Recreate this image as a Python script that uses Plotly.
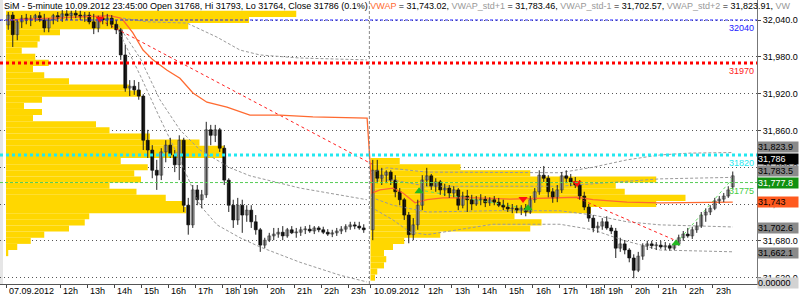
import plotly.graph_objects as go

# ---------------- DATA ----------------
# 10-minute candles, day 1 (07.09.2012) and day 2 (10.09.2012)
d1_open = [32032,32048,32016,32037,32043,32040,32043,32047,32040,32027,
           32040,32047,32043,32050,32047,32051,32048,32045,32048,32037,
           32027,32043,32040,32043,32033,32024,31983,31929,31932,31926,
           31916,31844,31828,31795,31787,31825,31836,31820,31804,31844,
           31738,31706,31763,31747,31755,31861,31852,31861,31831,31779,
           31738,31714,31738,31722,31730,31711,31698,31673,31681,31688,
           31691,31694,31688,31698,31693,31694,31698,31699,31696,31701,
           31698,31694,31691,31693,31696,31699,31703,31706,31704,31701]
d1_high = [32053,32053,32040,32048,32050,32048,32050,32053,32050,32043,
           32050,32053,32056,32056,32055,32056,32055,32053,32053,32050,
           32047,32053,32050,32048,32040,32027,31999,31942,31942,31939,
           31919,31861,31836,31812,31831,31844,31848,31828,31852,31848,
           31750,31771,31771,31763,31874,31869,31869,31864,31836,31782,
           31747,31750,31747,31738,31738,31722,31701,31685,31693,31701,
           31701,31704,31701,31704,31701,31703,31704,31706,31704,31704,
           31703,31699,31698,31701,31704,31707,31711,31711,31711,31707]
d1_low = [32024,31996,32007,32027,32033,32030,32037,32037,32020,32020,
          32033,32037,32037,32040,32040,32043,32040,32037,32033,32017,
          32020,32033,32030,32027,32017,31975,31923,31916,31918,31910,
          31828,31815,31782,31763,31779,31808,31815,31792,31779,31727,
          31690,31701,31738,31733,31750,31836,31841,31825,31771,31727,
          31701,31706,31693,31711,31701,31690,31662,31668,31678,31681,
          31685,31681,31685,31691,31685,31688,31691,31693,31691,31694,
          31691,31688,31686,31688,31691,31694,31698,31699,31698,31693]
d1_close = [32048,32016,32037,32043,32040,32043,32047,32040,32027,32040,
            32047,32043,32050,32047,32051,32048,32045,32048,32037,32027,
            32043,32040,32043,32033,32024,31983,31929,31932,31926,31916,
            31844,31828,31795,31787,31825,31836,31820,31804,31844,31738,
            31706,31763,31747,31755,31861,31852,31861,31831,31779,31738,
            31714,31738,31722,31730,31711,31698,31673,31681,31688,31691,
            31694,31688,31698,31693,31694,31698,31699,31696,31701,31698,
            31694,31691,31693,31696,31699,31703,31706,31704,31701,31698]

d2_open = [31698,31795,31782,31787,31792,31779,31760,31747,31722,31690,
           31706,31738,31779,31786,31769,31776,31763,31766,31758,31763,
           31738,31753,31747,31740,31747,31748,31742,31747,31743,31738,
           31735,31732,31733,31730,31733,31727,31747,31760,31787,31782,
           31760,31750,31763,31786,31782,31776,31771,31753,31735,31717,
           31701,31704,31711,31701,31696,31668,31675,31665,31652,31632,
           31655,31672,31675,31672,31673,31670,31672,31668,31675,31685,
           31691,31688,31698,31704,31722,31727,31733,31745,31748,31753,
           31768]
d2_high = [31812,31812,31799,31795,31795,31787,31766,31750,31727,31717,
           31747,31787,31799,31789,31782,31779,31773,31771,31769,31766,
           31760,31763,31755,31753,31756,31753,31751,31753,31750,31747,
           31742,31740,31738,31738,31740,31753,31766,31795,31802,31787,
           31766,31771,31792,31795,31789,31784,31779,31760,31740,31722,
           31711,31717,31720,31706,31701,31685,31681,31668,31658,31662,
           31676,31680,31680,31678,31680,31678,31676,31676,31690,31696,
           31701,31703,31711,31727,31733,31738,31750,31753,31758,31769,
           31793]
d2_low = [31681,31774,31771,31774,31771,31751,31738,31714,31676,31681,
          31698,31730,31769,31763,31760,31755,31753,31750,31751,31730,
          31733,31727,31730,31737,31738,31735,31737,31738,31735,31730,
          31727,31725,31725,31722,31720,31724,31742,31755,31776,31751,
          31742,31743,31758,31774,31769,31766,31747,31730,31711,31694,
          31693,31698,31698,31691,31652,31662,31658,31645,31619,31629,
          31649,31665,31667,31665,31667,31665,31664,31665,31672,31680,
          31685,31683,31693,31701,31711,31722,31730,31740,31743,31750,
          31764]
d2_close = [31795,31782,31787,31792,31779,31760,31747,31722,31690,31706,
            31738,31779,31786,31769,31776,31763,31766,31758,31763,31738,
            31753,31747,31740,31747,31748,31742,31747,31743,31738,31735,
            31732,31733,31730,31733,31727,31747,31760,31787,31782,31760,
            31750,31763,31786,31782,31776,31771,31753,31735,31717,31701,
            31704,31711,31701,31696,31668,31675,31665,31652,31632,31655,
            31672,31675,31672,31673,31670,31672,31668,31675,31685,31691,
            31688,31698,31704,31722,31727,31733,31745,31748,31753,31763,
            31786]

# x axis: 5-minute bar index (day 2 starts at bar 162)
day2_start = 162
tick_bars = [0, 24, 36, 48, 60, 72, 84, 96, 104, 116, 128, 140, 152,
             162, 186, 198, 210, 222, 234, 246, 258, 266, 278, 290, 302, 314]
tick_text = ["07.09.2012", "12h", "13h", "14h", "15h", "16h", "17h", "18h", "19h",
             "20h", "21h", "22h", "23h",
             "10.09.2012", "12h", "13h", "14h", "15h", "16h", "17h", "18h", "19h",
             "20h", "21h", "22h", "23h"]

# Volume profile (price bins of 10, length in bars)
prof_price = [32050 - 10 * i for i in range(44)]
prof_day1 = [129,108,81,24,15,14,7,13,19,12,17,28,55,60,16,8,16,12,40,46,
             64,86,97,97,51,63,57,60,46,58,71,79,80,37,35,28,17,11,5,1,0,0,0,0]
prof_day2 = [0]*24 + [13,40,71,127,109,113,140,127,98,64,76,71,31,15,10,6,7,6,3,2]

# VWAP and std bands (bar index, price)
vwap_bar = [0.9, 24, 46, 51, 52, 56.4, 60.9, 65.3, 71.6, 77.3, 83.1, 89.3, 98.2, 108.4,
            121.8, 136.4, 160.5, 162.7, 166.2, 172, 176.4, 181.8, 187.1, 194.2, 209.3,
            224, 238.7, 253.8, 260.9, 276, 290.7, 323]
vwap_val = [32040, 32043, 32047, 32043, 32040, 32019, 31991, 31975, 31958, 31945, 31921,
            31906, 31898, 31885, 31885, 31882, 31880, 31758, 31763, 31766, 31758, 31742,
            31747, 31750, 31750, 31748, 31750, 31751, 31747, 31743, 31742, 31743.02]

d1_p1_bar = [52, 62.7, 80.4, 93.8, 104, 112.9, 130.7, 160.4]
d1_p1_val = [32043, 32037, 32035, 32012, 31991, 31983, 31978, 31975]
d1_m1_bar = [49.8, 59.6, 68.4, 77.3, 86.2, 99.6, 108.4, 130.7, 160.4]
d1_m1_val = [32032, 31978, 31910, 31861, 31828, 31799, 31786, 31766, 31747]
d1_m2_bar = [49.8, 59.6, 68.4, 77.3, 86.2, 93.8, 104, 112.9, 130.7, 148.4, 160.4]
d1_m2_val = [32024, 31950, 31880, 31812, 31738, 31706, 31685, 31670, 31645, 31624, 31613]

d2_p2_bar = [162.2, 169.3, 187.1, 216.4, 246.2, 260.9, 276, 290.7, 304, 323.1]
d2_p2_val = [31791, 31799, 31792, 31791, 31791, 31800, 31812, 31820, 31823, 31823.91]
d2_p1_bar = [162.2, 172, 187.1, 216.4, 246.2, 260.9, 276, 290.7, 323.1]
d2_p1_val = [31779, 31779, 31769, 31769, 31769, 31773, 31777, 31781, 31783.46]
d2_m1_bar = [162.2, 172, 187.1, 216.4, 246.2, 260.9, 276, 290.7, 323.1]
d2_m1_val = [31751, 31738, 31727, 31729, 31729, 31722, 31711, 31706, 31702.57]
d2_m2_bar = [162.2, 172, 179.6, 187.1, 216.4, 246.2, 260.9, 274.2, 290.7, 323.1]
d2_m2_val = [31735, 31714, 31694, 31690, 31707, 31707, 31698, 31681, 31665, 31662.1]

# trend lines
red_lines = [([41.8, 162.7], [32040, 31805]), ([253.8, 297.3], [31750, 31681])]
green_lines = [([183.6, 232], [31763, 31732]), ([297.8, 323.1], [31676, 31782])]

# signals
sell_bar = [41.8, 229.8, 253.8]
sell_val = [32042, 31748, 31774]
buy_bar = [183.6, 232, 297.8]
buy_val = [31761, 31733, 31676]

# horizontal levels
levels = [32040, 31970, 31820, 31775]
level_text = ["32040", "31970", "31820", "31775"]

# right-axis value boxes
box_text = ["31,823.9", "31,786", "31,783.5", "31,777.8", "31,743", "31,702.6", "31,662.1"]
box_val = [31823.91, 31786, 31783.46, 31777.8, 31743.02, 31702.57, 31662.1]

# ---------------- FIGURE ----------------
FONT = "Liberation Sans, Arial, sans-serif"
fig = go.Figure()

# volume profiles
fig.add_trace(go.Bar(orientation='h', y=prof_price, x=prof_day1, base=0, width=10,
                     marker=dict(color='#FFD700', line=dict(width=0)), hoverinfo='skip'))
fig.add_trace(go.Bar(orientation='h', y=prof_price, x=prof_day2, base=day2_start, width=10,
                     marker=dict(color='#FFD700', line=dict(width=0)), hoverinfo='skip'))

# std bands
gray_dash = dict(color='#9a9a9a', width=1, dash='3px,2px')
for bx, bv in [(d1_p1_bar, d1_p1_val), (d1_m1_bar, d1_m1_val), (d1_m2_bar, d1_m2_val),
               (d2_p2_bar, d2_p2_val), (d2_p1_bar, d2_p1_val), (d2_m1_bar, d2_m1_val),
               (d2_m2_bar, d2_m2_val)]:
    fig.add_trace(go.Scatter(x=bx, y=bv, mode='lines', line=gray_dash, hoverinfo='skip'))

# trend lines
for lx, ly in red_lines:
    fig.add_trace(go.Scatter(x=lx, y=ly, mode='lines',
                             line=dict(color='#FF2020', width=1, dash='3px,3px'), hoverinfo='skip'))
for lx, ly in green_lines:
    fig.add_trace(go.Scatter(x=lx, y=ly, mode='lines',
                             line=dict(color='#66DD66', width=1, dash='3px,3px'), hoverinfo='skip'))

# VWAP
fig.add_trace(go.Scatter(x=vwap_bar, y=vwap_val, mode='lines',
                         line=dict(color='#FF6A30', width=1.3), hoverinfo='skip'))

# candles: wicks + bodies
opens = d1_open + d2_open
highs = d1_high + d2_high
lows = d1_low + d2_low
closes = d1_close + d2_close
cx = [2 * k + 1 for k in range(len(d1_open))] + [day2_start + 1 + 2 * j for j in range(len(d2_open))]
wx, wy = [], []
for x, h, l in zip(cx, highs, lows):
    wx += [x, x, None]
    wy += [l, h, None]
fig.add_trace(go.Scatter(x=wx, y=wy, mode='lines', line=dict(color='#222222', width=1),
                         hoverinfo='skip'))
for up in (True, False):
    sel = [i for i in range(len(cx)) if (closes[i] >= opens[i]) == up]
    fig.add_trace(go.Bar(
        x=[cx[i] for i in sel],
        y=[max(abs(closes[i] - opens[i]), 1.5) for i in sel],
        base=[min(opens[i], closes[i]) for i in sel],
        width=1.3,
        marker=dict(color='#b0b0b0' if up else '#000000',
                    line=dict(color='#444444' if up else '#000000', width=0.6)),
        hoverinfo='skip'))

# signals
fig.add_trace(go.Scatter(x=sell_bar, y=sell_val, mode='markers',
                         marker=dict(symbol='triangle-down', size=8, color='#FF1010'), hoverinfo='skip'))
fig.add_trace(go.Scatter(x=buy_bar, y=buy_val, mode='markers',
                         marker=dict(symbol='triangle-up', size=8, color='#22B822'), hoverinfo='skip'))

# horizontal levels
lvl_style = [dict(color='#2020FF', width=1, dash='3px,2px'),
             dict(color='#FF0000', width=3, dash='dot'),
             dict(color='#22E8F0', width=3, dash='dot'),
             dict(color='#55CC55', width=1, dash='3px,2px')]
lvl_col = ['#2020FF', '#FF2020', '#22E8F0', '#44CC44']
shapes = []
for lv, st in zip(levels, lvl_style):
    shapes.append(dict(type='line', xref='paper', x0=0, x1=1, yref='y', y0=lv, y1=lv,
                       line=st, layer='above'))
# day separator
shapes.append(dict(type='line', xref='x', x0=day2_start - 0.5, x1=day2_start - 0.5, yref='paper',
                   y0=0, y1=1, line=dict(color='#888888', width=1, dash='3px,2px'), layer='above'))
# left strip
shapes.append(dict(type='rect', xref='paper', x0=0, x1=0.004, yref='paper', y0=0, y1=1,
                   fillcolor='#e6e6e6', line=dict(width=0), layer='below'))

annotations = []
# title
title_html = ("SiM - 5-minute 10.09.2012 23:45:00 Open 31768, Hi 31793, Lo 31764, Close 31786 (0.1%) "
              "<span style='color:#FF6A30'>VWAP</span> = 31,743.02, "
              "<span style='color:#999999'>VWAP_std+1</span> = 31,783.46, "
              "<span style='color:#999999'>VWAP_std-1</span> = 31,702.57, "
              "<span style='color:#999999'>VWAP_std+2</span> = 31,823.91, "
              "<span style='color:#999999'>VW</span>")
annotations.append(dict(text=title_html, xref='paper', yref='paper', x=0, y=1, xanchor='left',
                        yanchor='top', xshift=2, yshift=1, showarrow=False,
                        font=dict(family=FONT, size=9, color='black')))
# x tick labels
for tb, tt in zip(tick_bars, tick_text):
    annotations.append(dict(text=tt, xref='x', yref='paper', x=tb, y=0, xanchor='left',
                            yanchor='top', xshift=1, yshift=0, showarrow=False,
                            font=dict(family=FONT, size=9, color='black')))
# level labels
for lv, lt, lc in zip(levels, level_text, lvl_col):
    annotations.append(dict(text=lt, xref='paper', yref='y', x=1, y=lv, xanchor='right',
                            yanchor='top', xshift=-1, yshift=-1, showarrow=False,
                            font=dict(family=FONT, size=9, color=lc)))
# right boxes
box_style = [('#8a8a8a', 'black', 6), ('#000000', 'white', 17), ('#8a8a8a', 'black', 6),
             ('#109010', 'white', -2), ('#FF5A1F', 'black', 0), ('#8a8a8a', 'black', -1),
             ('#8a8a8a', 'black', -1)]
for bt, bv, (bg, fc, ys) in zip(box_text, box_val, box_style):
    annotations.append(dict(text=bt, xref='paper', yref='y', x=1, y=bv, xanchor='left',
                            yanchor='middle', xshift=0, yshift=ys, showarrow=False,
                            bgcolor=bg, width=40, align='left', borderpad=0,
                            font=dict(family=FONT, size=9, color=fc)))
annotations.append(dict(text="0.00000", xref='paper', yref='paper', x=1, y=0, xanchor='left',
                        yanchor='middle', xshift=0, yshift=1, showarrow=False,
                        bgcolor='#d2d2d2', width=40, align='left', borderpad=0,
                        font=dict(family=FONT, size=9, color='black')))

fig.update_layout(
    width=800, height=295, margin=dict(l=0, r=43, t=0, b=11),
    paper_bgcolor='white', plot_bgcolor='white', showlegend=False,
    barmode='overlay', hovermode=False,
    shapes=shapes, annotations=annotations,
    xaxis=dict(range=[-2.667, 333.78], showgrid=False, zeroline=False,
               tickvals=tick_bars, ticktext=tick_text,
               showticklabels=False, ticks='outside', ticklen=3, tickcolor='#444444',
               showline=True, linecolor='#555555', linewidth=1),
    yaxis=dict(range=[31609.6, 32072.6], side='right', tickvals=[31620 + 60 * i for i in range(8)],
               tickformat=',.1f', showgrid=True, gridcolor='#555555', griddash='1px,3px', gridwidth=1,
               zeroline=False, showline=True, linecolor='#777777', linewidth=1,
               ticks='outside', ticklen=3, tickcolor='#444444',
               tickfont=dict(family=FONT, size=9, color='black')),
)

fig.write_html("out.html")
